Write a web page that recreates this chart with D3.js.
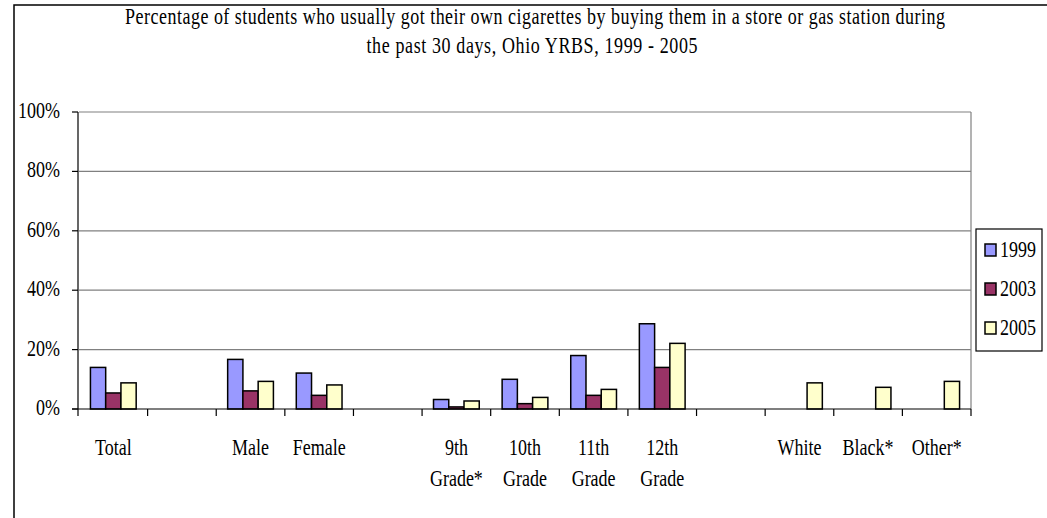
<!DOCTYPE html>
<html>
<head>
<meta charset="utf-8">
<script src="https://cdn.jsdelivr.net/npm/d3@7"></script>
<style>
  body { margin: 0; background: #fff; }
  svg text { font-family: "Times New Roman", "Liberation Serif", Tinos, serif; fill: #000; }
</style>
</head>
<body>
<svg id="chart" width="1047" height="518"></svg>
<script>
// categories, blanks are spacer slots
const categories = ["Total", "", "Male", "Female", "", "9th|Grade*", "10th|Grade", "11th|Grade", "12th|Grade", "", "White", "Black*", "Other*"];
const years = ["1999", "2003", "2005"];
const values1999 = [14.0, null, 16.7, 12.1, null, 3.2, 10.0, 18.0, 28.7, null, null, null, null];
const values2003 = [5.4, null, 6.1, 4.6, null, 0.7, 1.8, 4.6, 14.0, null, null, null, null];
const values2005 = [8.8, null, 9.3, 8.1, null, 2.7, 3.9, 6.6, 22.1, null, 8.8, 7.3, 9.3];
const yTicks = [0, 20, 40, 60, 80, 100];
const titleLines = [
  "Percentage of students who usually got their own cigarettes by buying them in a store or gas station during",
  "the past 30 days, Ohio YRBS, 1999 - 2005"
];

const colors = { "1999": "#9999ff", "2003": "#993366", "2005": "#ffffcc" };
const series = { "1999": values1999, "2003": values2003, "2005": values2005 };

const svg = d3.select("#chart");
const plot = { left: 79, right: 971, top: 112, bottom: 409 };
const stretch = 1.3; // Excel text is taller than wide

// outer border
svg.append("rect")
  .attr("x", 14).attr("y", 5)
  .attr("width", 1100).attr("height", 600)
  .attr("fill", "none").attr("stroke", "#000").attr("stroke-width", 1.5);

function label(g, x, y, str, anchor) {
  return g.append("text")
    .attr("transform", `translate(${x},${y}) scale(1,${stretch})`)
    .attr("text-anchor", anchor || "middle")
    .style("font-size", "18px")
    .text(str);
}

// title
label(svg, 535, 24, titleLines[0]).attr("textLength", 820).attr("lengthAdjust", "spacing");
label(svg, 532, 53, titleLines[1]).attr("textLength", 331).attr("lengthAdjust", "spacing");

const idx = categories.map((d, i) => i);
const x = d3.scaleBand().domain(idx).range([plot.left, plot.right]).padding(0);
const xs = d3.scaleBand().domain(years).range([0, x.bandwidth()]).paddingInner(0).paddingOuter(0.75);
const y = d3.scaleLinear().domain([0, 100]).range([plot.bottom, plot.top]);

// gridlines
svg.append("g").selectAll("line")
  .data(yTicks.filter(d => d > 0))
  .join("line")
  .attr("x1", plot.left).attr("x2", plot.right)
  .attr("y1", d => y(d)).attr("y2", d => y(d))
  .attr("stroke", "#808080").attr("stroke-width", 1.2);

// right border of plot area
svg.append("line")
  .attr("x1", plot.right).attr("x2", plot.right)
  .attr("y1", plot.top).attr("y2", plot.bottom)
  .attr("stroke", "#808080").attr("stroke-width", 1.2);

// bars
years.forEach(yr => {
  svg.append("g").selectAll("rect")
    .data(series[yr].map((v, i) => ({ i, v })).filter(d => d.v != null))
    .join("rect")
    .attr("x", d => x(d.i) + xs(yr))
    .attr("y", d => y(d.v))
    .attr("width", xs.bandwidth())
    .attr("height", d => y(0) - y(d.v))
    .attr("fill", colors[yr])
    .attr("stroke", "#000").attr("stroke-width", 1.5);
});

// y axis
const yAxis = svg.append("g");
yAxis.append("line")
  .attr("x1", plot.left - 1).attr("x2", plot.left - 1)
  .attr("y1", plot.top).attr("y2", plot.bottom + 7)
  .attr("stroke", "#000").attr("stroke-width", 1.2);
yAxis.selectAll(".tk").data(yTicks).join("line")
  .attr("x1", plot.left - 7).attr("x2", plot.left - 1)
  .attr("y1", d => y(d)).attr("y2", d => y(d))
  .attr("stroke", "#000").attr("stroke-width", 1.2);
yTicks.forEach(t => label(yAxis, 60, y(t) + 6, t + "%", "end"));

// x axis
const xAxis = svg.append("g");
xAxis.append("line")
  .attr("x1", plot.left - 7).attr("x2", plot.right)
  .attr("y1", plot.bottom).attr("y2", plot.bottom)
  .attr("stroke", "#000").attr("stroke-width", 1.2);
xAxis.selectAll(".tk").data(idx.slice(1).concat([idx.length]))
  .join("line")
  .attr("x1", d => plot.left + d * x.step()).attr("x2", d => plot.left + d * x.step())
  .attr("y1", plot.bottom).attr("y2", plot.bottom + 7)
  .attr("stroke", "#000").attr("stroke-width", 1.2);
categories.forEach((c, i) => {
  if (!c) return;
  c.split("|").forEach((ln, k) => {
    label(xAxis, x(i) + x.bandwidth() / 2, 455 + k * 31, ln);
  });
});

// legend
const lg = svg.append("g");
lg.append("rect")
  .attr("x", 976).attr("y", 229).attr("width", 66).attr("height", 122)
  .attr("fill", "#fff").attr("stroke", "#000").attr("stroke-width", 1.2);
years.forEach((yr, i) => {
  const cy = 250 + i * 39;
  lg.append("rect")
    .attr("x", 985).attr("y", cy - 6).attr("width", 11).attr("height", 12)
    .attr("fill", colors[yr]).attr("stroke", "#000").attr("stroke-width", 1.5);
  label(lg, 1000, cy + 7, yr, "start");
});
</script>
</body>
</html>
